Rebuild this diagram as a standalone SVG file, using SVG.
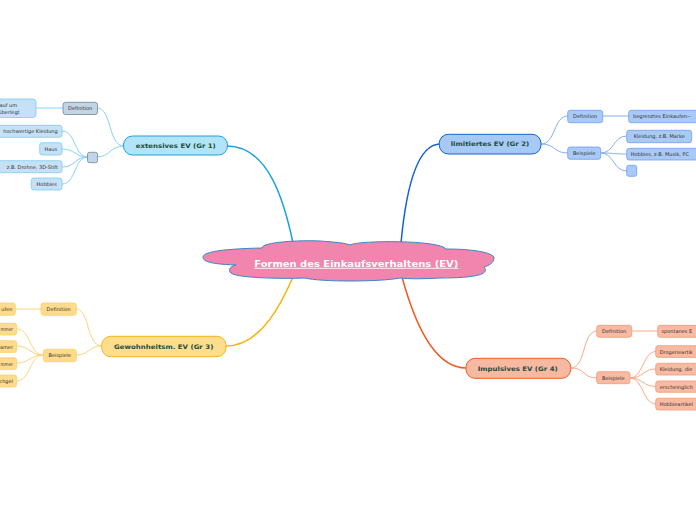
<svg xmlns="http://www.w3.org/2000/svg" width="696" height="520" viewBox="0 0 696 520">
<style>
text{font-family:"DejaVu Sans","Liberation Sans",Arial,sans-serif}
.main{font-size:6.2px;font-weight:bold;fill:#1d4d3b;text-anchor:middle}
.sub{font-size:5px;fill:#333;text-anchor:middle}
.subL{font-size:5px;fill:#333;text-anchor:start}
.subR{font-size:5px;fill:#333;text-anchor:end}
.center{font-size:9px;font-weight:bold;fill:#fff;text-anchor:middle;text-decoration:underline}
.c1{fill:none;stroke:#1ba0e2;stroke-width:1.5}
.c2{fill:none;stroke:#1462cf;stroke-width:1.5}
.c3{fill:none;stroke:#f7b500;stroke-width:1.5}
.c4{fill:none;stroke:#ef5a22;stroke-width:1.5}
.s1{fill:none;stroke:#84d4f4;stroke-width:1}
.s2{fill:none;stroke:#86aff0;stroke-width:1}
.s3{fill:none;stroke:#fdd47c;stroke-width:1}
.s4{fill:none;stroke:#f8a98c;stroke-width:1}
.m1{fill:#b2e4f8;stroke:#1ba0e2;stroke-width:1}
.m2{fill:#a6c9f6;stroke:#1462cf;stroke-width:1}
.m3{fill:#fedd8c;stroke:#f5b51c;stroke-width:1}
.m4{fill:#f8b9a2;stroke:#ef5a24;stroke-width:1}
.g1{fill:#c3d4e4;stroke:#6f8599;stroke-width:0.8}
.l1{fill:#c6e1f5;stroke:#7ccbf0;stroke-width:0.8}
.l2{fill:#a9c9f7;stroke:#6d9ff0;stroke-width:0.8}
.l3{fill:#fedc8b;stroke:#fbcf6a;stroke-width:0.8}
.l4{fill:#f8baa2;stroke:#f29a7a;stroke-width:0.8}
</style>
<rect width="696" height="520" fill="#fff"/>
<g id="connectors">
<path class="c1" d="M227,146 C268,146 284,200 293,243"/>
<path class="c2" d="M439,144 C414,146 405,200 401,243"/>
<path class="c3" d="M226,346 C262,346 283,300 293,277"/>
<path class="c4" d="M466,368 C430,368 411,310 402,277"/>
<path class="s1" d="M124,146 C108,146 112,108 97,108"/>
<path class="s1" d="M124,146 C110,146 110,157 97,157"/>
<path class="s1" d="M63,108 L36,108"/>
<path class="s1" d="M88,157 C74,157 76,131 62,131"/>
<path class="s1" d="M88,157 C74,157 76,149 62,149"/>
<path class="s1" d="M88,157 C74,157 76,167 62,167"/>
<path class="s1" d="M88,157 C74,157 76,184 62,184"/>
<path class="s2" d="M541,144 C556,144 553,116 568,116"/>
<path class="s2" d="M541,144 C556,144 553,153 568,153"/>
<path class="s2" d="M603,116 L629,116"/>
<path class="s2" d="M601,153 C614,153 613,136 627,136"/>
<path class="s2" d="M601,153 C614,153 613,154 627,154"/>
<path class="s2" d="M601,153 C614,153 613,171 627,171"/>
<path class="s3" d="M102,346 C86,346 90,309 76,309"/>
<path class="s3" d="M102,346 C88,346 90,355 76,355"/>
<path class="s3" d="M41,309 L15,309"/>
<path class="s3" d="M43,355 C30,355 30,329 17,329"/>
<path class="s3" d="M43,355 C30,355 30,346 17,346"/>
<path class="s3" d="M43,355 C30,355 30,363 17,363"/>
<path class="s3" d="M43,355 C30,355 30,381 17,381"/>
<path class="s4" d="M571,368 C586,368 582,331 597,331"/>
<path class="s4" d="M571,368 C586,368 582,378 597,378"/>
<path class="s4" d="M632,331 L658,331"/>
<path class="s4" d="M630,378 C643,378 643,351.5 656,351.5"/>
<path class="s4" d="M630,378 C643,378 643,369 656,369"/>
<path class="s4" d="M630,378 C643,378 643,386.5 656,386.5"/>
<path class="s4" d="M630,378 C643,378 643,404 656,404"/>
</g>
<g id="center">
<path d="M262,248 C262,242 300,240 320,241 C335,242 345,243 350,245 C360,240 440,240 446,249 C475,249 494,253 494,258 C494,263 488,266 484,267 C488,272 486,278 440,278 C420,279 410,279 400,278 C380,282 320,282 305,278 C280,279 232,278 230,272 C228,268 232,266 236,265 C205,264 203,260 203,257 C203,253 215,249 262,248 Z" fill="#f185ad" stroke="#3a86c8" stroke-width="1"/>
<text class="center" x="356.3" y="266.8" textLength="204" lengthAdjust="spacingAndGlyphs">Formen des Einkaufsverhaltens (EV)</text>
</g>
<g id="gr1">
<rect class="m1" x="123.5" y="136" width="104" height="19" rx="9"/>
<text class="main" x="175.8" y="148" textLength="80" lengthAdjust="spacingAndGlyphs">extensives EV (Gr 1)</text>
</g>
<g id="gr1-def">
<rect class="g1" x="63" y="102.3" width="34.5" height="12.2" rx="2.5"/>
<text class="sub" x="80.2" y="110.3">Definition</text>
</g>
<g id="gr1-def-text">
<rect class="l1" x="-10" y="99" width="46" height="18.5" rx="3"/>
<text class="subL" x="-0.5" y="107.2">auf um</text>
<text class="subL" x="-1.5" y="114.2">überlegt</text>
</g>
<g id="gr1-bsp">
<rect class="g1" x="87.5" y="152.3" width="10" height="10.4" rx="2"/>
</g>
<g id="gr1-b1">
<rect class="l1" x="-10" y="125.3" width="72" height="12" rx="2.5"/>
<text class="subR" x="57.7" y="133.3">hochwertige Kleidung</text>
</g>
<g id="gr1-b2">
<rect class="l1" x="39.7" y="142.7" width="22.3" height="12.3" rx="2.5"/>
<text class="sub" x="50.8" y="150.8">Haus</text>
</g>
<g id="gr1-b3">
<rect class="l1" x="-10" y="160.7" width="72" height="12" rx="2.5"/>
<text class="subR" x="58" y="168.7">z.B. Drohne, 3D-Stift</text>
</g>
<g id="gr1-b4">
<rect class="l1" x="31.3" y="178" width="30.7" height="12" rx="2.5"/>
<text class="sub" x="46.7" y="186">Hobbies</text>
</g>
<g id="gr2">
<rect class="m2" x="439.3" y="134.3" width="101.7" height="19.7" rx="9"/>
<text class="main" x="490" y="146.4" textLength="78.6" lengthAdjust="spacingAndGlyphs">limitiertes EV (Gr 2)</text>
</g>
<g id="gr2-def">
<rect class="l2" x="567.7" y="110.3" width="35" height="12.4" rx="2.5"/>
<text class="sub" x="585.2" y="118.4">Definition</text>
</g>
<g id="gr2-def-text">
<rect class="l2" x="628.7" y="110.3" width="80" height="12.4" rx="2.5"/>
<text class="subL" x="633" y="118.4">begrenztes Einkaufen--</text>
</g>
<g id="gr2-bsp">
<rect class="l2" x="567.7" y="147" width="33" height="12.3" rx="2.5"/>
<text class="sub" x="584.2" y="155.1">Beispiele</text>
</g>
<g id="gr2-b1">
<rect class="l2" x="626.7" y="130.3" width="65" height="12.4" rx="2.5"/>
<text class="sub" x="659.2" y="138.4">Kleidung, z.B. Marke</text>
</g>
<g id="gr2-b2">
<rect class="l2" x="626.7" y="148.3" width="80" height="11.7" rx="2.5"/>
<text class="subL" x="630.7" y="156.1">Hobbies, z.B. Musik, PC</text>
</g>
<g id="gr2-b3">
<rect class="l2" x="626.7" y="165.3" width="10" height="11" rx="2"/>
</g>
<g id="gr3">
<rect class="m3" x="101.7" y="336.3" width="124.3" height="20.4" rx="9"/>
<text class="main" x="163.7" y="348.6" textLength="99.3" lengthAdjust="spacingAndGlyphs">Gewohnheitsm. EV (Gr 3)</text>
</g>
<g id="gr3-def">
<rect class="l3" x="41" y="303" width="35.3" height="12.3" rx="2.5"/>
<text class="sub" x="58.7" y="311.1">Definition</text>
</g>
<g id="gr3-def-text">
<rect class="l3" x="-10" y="303" width="25.3" height="12.3" rx="2.5"/>
<text class="subR" x="12.5" y="311.1">ufen</text>
</g>
<g id="gr3-bsp">
<rect class="l3" x="43.3" y="349.3" width="33" height="12.4" rx="2.5"/>
<text class="sub" x="59.8" y="357.4">Beispiele</text>
</g>
<g id="gr3-b1">
<rect class="l3" x="-10" y="323.3" width="26.7" height="11.7" rx="2.5"/>
<text class="subR" x="13" y="331.1" textLength="12.5" lengthAdjust="spacingAndGlyphs">mmer</text>
</g>
<g id="gr3-b2">
<rect class="l3" x="-10" y="340.7" width="26.7" height="11.7" rx="2.5"/>
<text class="subR" x="13" y="348.5">amer</text>
</g>
<g id="gr3-b3">
<rect class="l3" x="-10" y="357.7" width="26.7" height="11.7" rx="2.5"/>
<text class="subR" x="13" y="365.5" textLength="12.5" lengthAdjust="spacingAndGlyphs">mmer</text>
</g>
<g id="gr3-b4">
<rect class="l3" x="-10" y="375" width="26.7" height="12" rx="2.5"/>
<text class="subR" x="13" y="383">chgel</text>
</g>
<g id="gr4">
<rect class="m4" x="466" y="358.3" width="104.7" height="20" rx="9"/>
<text class="main" x="517.7" y="370.5" textLength="80" lengthAdjust="spacingAndGlyphs">Impulsives EV (Gr 4)</text>
</g>
<g id="gr4-def">
<rect class="l4" x="596.7" y="325.3" width="35" height="12" rx="2.5"/>
<text class="sub" x="614.2" y="333.3">Definition</text>
</g>
<g id="gr4-def-text">
<rect class="l4" x="657.7" y="325.3" width="60" height="12" rx="2.5"/>
<text class="subL" x="661.5" y="333.3">spontanes E</text>
</g>
<g id="gr4-bsp">
<rect class="l4" x="596.7" y="371.7" width="33.3" height="12" rx="2.5"/>
<text class="sub" x="613.3" y="379.7">Beispiele</text>
</g>
<g id="gr4-b1">
<rect class="l4" x="655.7" y="345.7" width="60" height="11.7" rx="2.5"/>
<text class="subL" x="659.7" y="353.5">Drogerieartik</text>
</g>
<g id="gr4-b2">
<rect class="l4" x="655.7" y="363.3" width="60" height="11.7" rx="2.5"/>
<text class="subL" x="659.7" y="371.1">Kleidung, die</text>
</g>
<g id="gr4-b3">
<rect class="l4" x="655.7" y="381" width="60" height="11.3" rx="2.5"/>
<text class="subL" x="659.7" y="388.6">erscheinglich</text>
</g>
<g id="gr4-b4">
<rect class="l4" x="655.7" y="398.3" width="60" height="11.7" rx="2.5"/>
<text class="subL" x="659.7" y="406.1">Hobbieartikel</text>
</g>
</svg>
